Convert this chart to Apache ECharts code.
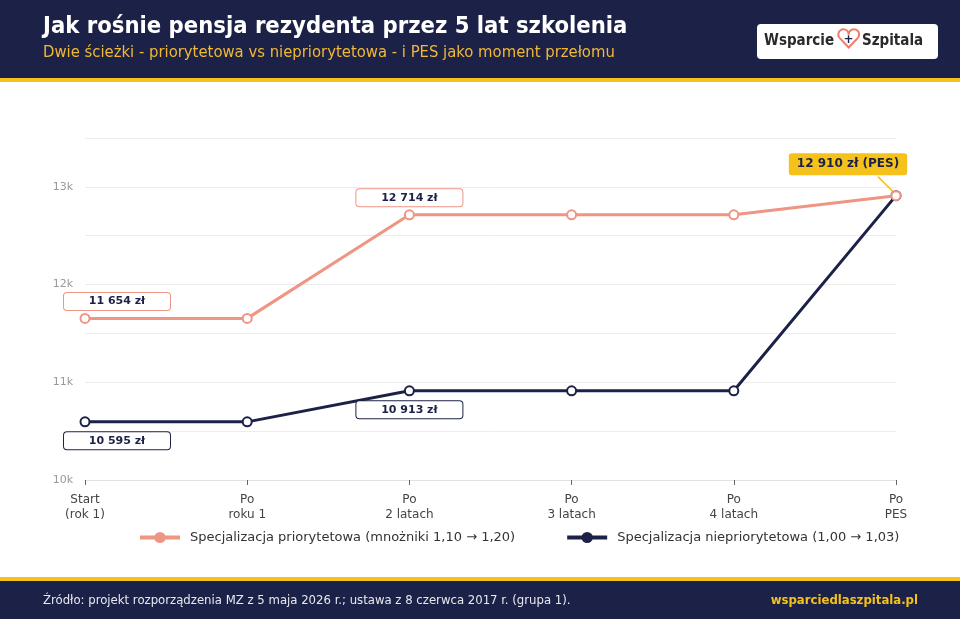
<!DOCTYPE html>
<html><head><meta charset="utf-8">
<script src="https://cdn.jsdelivr.net/npm/echarts@6/dist/echarts.min.js"></script>
<style>html,body{margin:0;padding:0;background:#fff}#c{width:960px;height:619px}</style>
</head><body><div id="c"></div>
<script>
const categories = ['Start\n(rok 1)', 'Po\nroku 1', 'Po\n2 latach', 'Po\n3 latach', 'Po\n4 latach', 'Po\nPES'];
const priorytetowa = [11654, 11654, 12714, 12714, 12714, 12910];
const niepriorytetowa = [10595, 10595, 10913, 10913, 10913, 12910];
const seriesNames = ['Specjalizacja priorytetowa (mnożniki 1,10 → 1,20)', 'Specjalizacja niepriorytetowa (1,00 → 1,03)'];
const yTicks = [10000, 11000, 12000, 13000];

const NAVY = '#1c2247', CORAL = '#ef9584', GOLD = '#f5c21b';
const FONT = 'DejaVu Sans';
const fmt = v => String(v).replace(/\B(?=(\d{3})+(?!\d))/g, ' ') + ' zł';

function boxLabel(color, pos) {
  return { show: true, position: pos, distance: 5, formatter: p => fmt(p.value),
    backgroundColor: '#fff', borderColor: color, borderWidth: 1, borderRadius: 3,
    width: 96, align: 'center', padding: [3, 5], fontSize: 11, fontWeight: 'bold', color: NAVY, fontFamily: FONT };
}
const pData = priorytetowa.map((v, i) => {
  const item = { value: v, symbol: 'emptyCircle' };
  if (i === 0 || i === 2) item.label = boxLabel(CORAL, 'top');
  if (i === 5) item.label = { show: true, position: 'top', formatter: p => fmt(p.value) + ' (PES)',
      backgroundColor: GOLD, borderRadius: 3, padding: [5, 8], fontSize: 12, fontWeight: 'bold', color: NAVY, fontFamily: FONT };
  return item;
});
const nData = niepriorytetowa.map((v, i) => {
  const item = { value: v, symbol: 'emptyCircle' };
  if (i === 0 || i === 2) item.label = boxLabel(NAVY, 'bottom');
  return item;
});

function txt(x, y, text, fill, font, align) {
  return { type: 'text', x: x, y: y, style: { text: text, fill: fill, font: font, textAlign: align || 'left', textVerticalAlign: 'middle' } };
}
const CF = '"DejaVu Sans Condensed", "DejaVu Sans"';
const HEART = '#ef7b68';

const chart = echarts.init(document.getElementById('c'), null, { renderer: 'canvas' });
const baseGraphic = [
  { type: 'rect', shape: { x: 0, y: 0, width: 960, height: 79 }, style: { fill: NAVY }, z: -1 },
  { type: 'rect', shape: { x: 0, y: 78, width: 960, height: 4 }, style: { fill: GOLD }, z: -1 },
  txt(43, 27, 'Jak rośnie pensja rezydenta przez 5 lat szkolenia', '#fff', 'bold 23.6px ' + CF),
  txt(43, 53, 'Dwie ścieżki - priorytetowa vs niepriorytetowa - i PES jako moment przełomu', '#f2b834', '16.5px ' + CF),
  { type: 'rect', shape: { x: 757, y: 24, width: 181, height: 35, r: 4 }, style: { fill: '#fff' } },
  txt(764, 41, 'Wsparcie', '#2a2a2a', '600 15px ' + CF),
  { type: 'arc', shape: { cx: 843.5, cy: 34.5, r: 5.2, startAngle: Math.PI * 0.8, endAngle: Math.PI * 2, clockwise: true }, style: { stroke: HEART, lineWidth: 2, fill: null } },
  { type: 'arc', shape: { cx: 853.9, cy: 34.5, r: 5.2, startAngle: Math.PI, endAngle: Math.PI * 2.2, clockwise: true }, style: { stroke: HEART, lineWidth: 2, fill: null } },
  { type: 'polyline', shape: { points: [[839.3, 37.6], [848.7, 47.5], [858.1, 37.6]] }, style: { stroke: HEART, lineWidth: 2, fill: null } },
  txt(848.5, 40, '+', NAVY, 'bold 12px "DejaVu Sans"', 'center'),
  txt(862, 41, 'Szpitala', '#2a2a2a', '600 15px ' + CF),
  { type: 'rect', shape: { x: 0, y: 577, width: 960, height: 5 }, style: { fill: GOLD }, z: -1 },
  { type: 'rect', shape: { x: 0, y: 581, width: 960, height: 38 }, style: { fill: NAVY }, z: -1 },
  txt(43, 601, 'Źródło: projekt rozporządzenia MZ z 5 maja 2026 r.; ustawa z 8 czerwca 2017 r. (grupa 1).', '#e8e8ee', '13px ' + CF),
  txt(918, 601, 'wsparciedlaszpitala.pl', GOLD, 'bold 13px ' + CF, 'right')
];

chart.setOption({
  animation: false,
  textStyle: { fontFamily: FONT },
  graphic: baseGraphic,
  grid: { left: 85, right: 64, top: 138, bottom: 139, containLabel: false },
  legend: {
    bottom: 70, left: 133, itemWidth: 40, itemHeight: 14, itemGap: 50,
    lineStyle: { width: 4 },
    textStyle: { fontSize: 13, color: '#333', fontFamily: FONT, padding: [0, 0, 0, 5] },
    data: seriesNames
  },
  xAxis: {
    type: 'category', boundaryGap: false, data: categories,
    axisLine: { show: true, lineStyle: { color: '#e2e2e2' } },
    axisTick: { show: true, length: 5, lineStyle: { color: '#666' } },
    axisLabel: { color: '#444', fontSize: 12, margin: 12, lineHeight: 15, fontFamily: FONT }
  },
  yAxis: {
    type: 'value', min: 10000, max: 13500, interval: 500,
    axisLine: { show: false }, axisTick: { show: false },
    axisLabel: { color: '#999', fontSize: 11, margin: 12, fontFamily: FONT,
      formatter: v => yTicks.includes(v) ? (v / 1000) + 'k' : '' },
    splitLine: { lineStyle: { color: '#ececec' } }
  },
  series: [
    { name: seriesNames[0], type: 'line', data: pData, color: CORAL, z: 3,
      symbol: 'circle', symbolSize: 9, lineStyle: { width: 3, color: CORAL },
      itemStyle: { color: CORAL, borderWidth: 2.5 },
      labelLayout: p => p.dataIndex === 5 ? { dx: -48, dy: -10 } : (p.dataIndex === 0 ? { dx: 32, dy: 2 } : { dy: 2 }) },
    { name: seriesNames[1], type: 'line', data: nData, color: NAVY, z: 2,
      symbol: 'circle', symbolSize: 9, lineStyle: { width: 3, color: NAVY },
      itemStyle: { color: NAVY, borderWidth: 2.5 },
      labelLayout: p => p.dataIndex === 0 ? { dx: 32 } : {} }
  ]
});

// leader line from the PES label down to the final point, placed through the chart's own scale
const last = priorytetowa.length - 1;
const pt = chart.convertToPixel({ seriesIndex: 0 }, [last, priorytetowa[last]]);
chart.setOption({
  graphic: baseGraphic.concat([
    { type: 'line', shape: { x1: pt[0] - 18, y1: pt[1] - 19, x2: pt[0] - 3, y2: pt[1] - 4 }, style: { stroke: GOLD, lineWidth: 1.5 }, z: 1 }
  ])
});
</script></body></html>
